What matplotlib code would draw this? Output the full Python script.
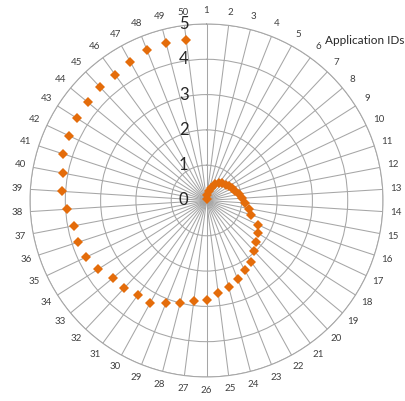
import numpy as np
import matplotlib.pyplot as plt
import matplotlib.transforms as mtransforms

plt.rcParams['font.family'] = ['Lato', 'DejaVu Sans']

app_ids = [str(i) for i in range(1, 51)]
values = [0.05, 0.15, 0.27, 0.38, 0.52, 0.62, 0.66, 0.70, 0.75, 0.80,
          0.86, 0.93, 1.00, 1.10, 1.22, 1.33, 1.60, 1.72, 1.83, 1.98,
          2.16, 2.25, 2.40, 2.52, 2.64, 2.82, 2.87, 3.00, 3.12, 3.30,
          3.32, 3.40, 3.44, 3.63, 3.77, 3.83, 3.82, 3.96, 4.10, 4.14,
          4.27, 4.30, 4.35, 4.36, 4.40, 4.40, 4.49, 4.57, 4.60, 4.58]
r_ticks = [0, 1, 2, 3, 4, 5]
title = "Application IDs"

grid_col = '#a6a6a6'
marker_col = '#e46c0a'

fig = plt.figure(figsize=(4.06, 4.01), dpi=100)
ax = fig.add_axes([0.5086 - 0.4347, 0.5 - 0.4401, 0.8695, 0.8803], projection='polar')
ax.set_theta_zero_location('N')
ax.set_theta_direction(-1)

theta = np.arange(len(app_ids)) * 2 * np.pi / len(app_ids)

ax.set_ylim(0, 5)
ax.set_yticks(r_ticks)
ax.set_yticklabels([])
ax.set_xticks(theta)
ax.set_xticklabels([])
ax.tick_params(length=0)
ax.grid(True, color=grid_col, linewidth=0.75)
ax.spines['polar'].set_color(grid_col)
ax.spines['polar'].set_linewidth(0.75)

# category labels around the outside
for t, lab in zip(theta, app_ids):
    ax.text(t, 5.38, lab, ha='center', va='center', fontsize=7,
            color='#404040', clip_on=False)

# value labels sit just left of the top spoke
off = mtransforms.offset_copy(ax.transData, fig=fig, x=-13, y=0, units='points')
for r in r_ticks:
    ax.text(0, r, str(r), transform=off, ha='right', va='center',
            fontsize=12, color='#262626')

ax.plot(theta, values, linestyle='none', marker='D', markersize=5.4,
        color=marker_col, markeredgewidth=0, clip_on=False, zorder=3)

fig.text(404 / 406, 1 - 41 / 401, title, ha='right', va='center',
         fontsize=8.5, color='#262626')

fig.savefig('out.png', dpi=100)
